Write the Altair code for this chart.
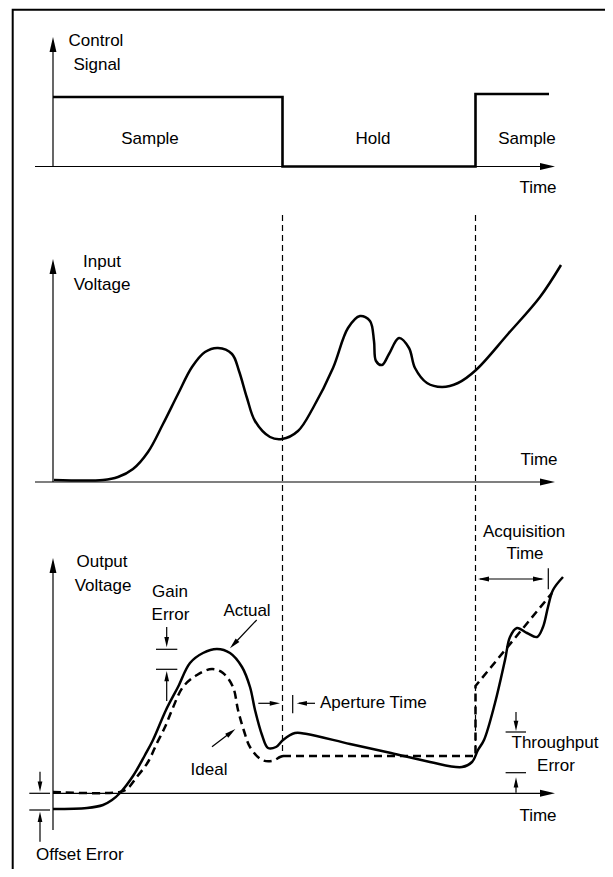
import altair as alt
import pandas as pd

# ---------------- data (diagram units = reference pixel grid) ----------------
# Control signal (step waveform)
control_x = [53, 282.5, 282.5, 475.5, 475.5, 549]
control_y = [97, 97, 166.5, 166.5, 94, 94]

# Input voltage curve
input_x = [54, 103, 118, 133, 148, 163, 178, 192, 205, 218, 232, 239, 247, 255, 270, 282,
           298, 313, 333, 348, 360, 370, 374, 376, 382, 389, 399, 409, 415, 427, 442, 458,
           476, 508, 540, 561]
input_y = [480, 480, 477, 469, 452, 424, 394, 367, 352, 348, 354, 371, 398, 421, 437, 439,
           431, 408, 368, 328, 316, 321, 341, 361, 365, 354, 338, 348, 368, 383, 387, 383,
           370, 334, 297, 265]

# Output voltage: actual (solid)
actual_x = [53, 87, 103, 112, 120, 133, 145, 153, 166, 178, 190, 203, 217, 230, 242, 250,
            255, 262, 268, 276, 283, 295, 307, 350, 391, 430, 462, 472, 478, 484, 495, 505,
            510, 517, 527, 537, 543, 548, 553, 563]
actual_y = [809, 808, 805, 800, 793, 776, 755, 740, 710, 687, 663, 653, 649, 653, 667, 687,
            710, 735, 748, 747, 740, 733, 734, 744, 753, 762, 767, 762, 750, 740, 703, 660,
            637, 628, 633, 637, 627, 607, 590, 577]

# Output voltage: ideal (dashed), tracking part and hold part
ideal_x = [53, 120, 128, 136, 148, 157, 165, 172, 183, 197, 212, 223, 233, 238, 244, 250,
           262, 272, 280, 283]
ideal_y = [792, 792, 788, 778, 762, 743, 727, 710, 687, 675, 669, 673, 687, 710, 731, 747,
           760, 761, 757, 756]
hold_x = [283, 475.5, 475.5, 552]
hold_y = [756, 756, 686, 593]

# Thin solid segments: axes, ticks and annotation arrow shafts
seg_x1 = [53, 35, 53, 35, 53, 53,
          166.7, 156, 156, 166.7, 256.7, 212,
          258.3, 292.7, 299, 480, 548.3,
          516, 505.6, 505.6, 516, 29.3, 29.3, 40, 40]
seg_y1 = [167, 166.5, 482, 482, 830, 793.3,
          627, 649.3, 669.3, 678, 620, 746.7,
          703.3, 695, 703.3, 579, 568.3,
          712, 732, 772.7, 785, 793.3, 810, 771.7, 818]
seg_x2 = [53, 542, 53, 542, 53, 542,
          166.7, 177.3, 177.3, 166.7, 233, 232,
          272, 292.7, 315, 542, 548.3,
          516, 526, 526, 516, 50, 50, 40, 40]
seg_y2 = [50, 166.5, 272, 482, 571, 793.3,
          639, 649.3, 669.3, 701, 645, 731.5,
          703.3, 713.3, 703.3, 579, 589.3,
          723, 732, 772.7, 792.7, 793.3, 810, 783, 841.7]

# Dashed guide lines at the sample->hold and hold->sample instants
guide_x = [282.5, 475.5]
guide_y1 = [215, 215]
guide_y2 = [756, 756]

# Arrowheads: tip position, direction (deg, clockwise from up) and size
head_x = [53, 555, 53, 555, 53, 555,
          166.7, 166.7, 230, 235.4, 280, 296.7, 478, 544, 516, 516, 40, 40]
head_y = [37, 166.5, 259, 482, 558, 793.3,
          647.3, 671, 648.3, 729, 703.3, 703.3, 579, 579, 731, 777.3, 791.7, 811.7]
head_a = [0, 90, 0, 90, 0, 90,
          180, 0, 223, 52, 90, 270, 270, 90, 180, 0, 180, 0]
head_s = [900, 900, 900, 900, 900, 900,
          420, 420, 484, 484, 420, 420, 484, 484, 420, 420, 420, 420]

# Centered labels
label_text = ["Control", "Signal", "Sample", "Hold", "Sample", "Time",
              "Input", "Voltage", "Time",
              "Output", "Voltage", "Acquisition", "Time", "Gain", "Error", "Actual",
              "Ideal", "Throughput", "Error", "Time"]
label_x = [96, 97, 150, 373, 527, 538,
           102, 102, 539,
           102, 103, 524, 525, 170, 170.5, 247,
           209, 555, 556, 538]
label_y = [41, 65, 139, 139, 139, 188,
           262, 285, 460,
           562, 586, 532, 554, 592, 615, 611,
           770, 743, 766, 816]

# Left-aligned labels
left_text = ["Aperture Time", "Offset Error"]
left_x = [320, 36]
left_y = [703.3, 855]

# Frame (left and top edges visible)
frame_x = [12.7, 12.7, 613]
frame_y = [877, 9.7, 9.7]

# ---------------- chart ----------------
XS = alt.Scale(domain=[8, 605], nice=False, zero=False)
YS = alt.Scale(domain=[8, 869], nice=False, zero=False, reverse=True)
FONT = "Liberation Sans"
FS = 17


def line_layer(xs, ys, width=2.5, dash=None, interp="linear"):
    df = pd.DataFrame({"x": xs, "y": ys, "i": list(range(len(xs)))})
    kw = dict(color="black", strokeWidth=width, interpolate=interp, clip=False)
    if dash:
        kw["strokeDash"] = dash
    return alt.Chart(df).mark_line(**kw).encode(
        x=alt.X("x:Q", scale=XS, axis=None),
        y=alt.Y("y:Q", scale=YS, axis=None),
        order="i:Q",
    )


frame = line_layer(frame_x, frame_y, width=2)
control = line_layer(control_x, control_y, width=2.6)
inp = line_layer(input_x, input_y, width=2.5, interp="catmull-rom")
actual = line_layer(actual_x, actual_y, width=2.5, interp="catmull-rom")
ideal = line_layer(ideal_x, ideal_y, width=2.5, dash=[8, 5], interp="catmull-rom")
hold = line_layer(hold_x, hold_y, width=2.5, dash=[8, 5])

seg_df = pd.DataFrame({"x": seg_x1, "y": seg_y1, "x2": seg_x2, "y2": seg_y2})
segs = alt.Chart(seg_df).mark_rule(color="black", strokeWidth=1.2).encode(
    x=alt.X("x:Q", scale=XS, axis=None), y=alt.Y("y:Q", scale=YS, axis=None),
    x2="x2:Q", y2="y2:Q",
)

guide_df = pd.DataFrame({"x": guide_x, "y": guide_y1, "y2": guide_y2})
guides = alt.Chart(guide_df).mark_rule(color="black", strokeWidth=1.2, strokeDash=[6, 4]).encode(
    x=alt.X("x:Q", scale=XS, axis=None), y=alt.Y("y:Q", scale=YS, axis=None), y2="y2:Q",
)

head_df = pd.DataFrame({"x": head_x, "y": head_y, "a": head_a, "s": head_s})
heads = alt.Chart(head_df).mark_point(
    shape="M0,0L0.23,1L-0.23,1Z", filled=True, color="black", opacity=1, strokeWidth=0
).encode(
    x=alt.X("x:Q", scale=XS, axis=None), y=alt.Y("y:Q", scale=YS, axis=None),
    angle=alt.Angle("a:Q", scale=None), size=alt.Size("s:Q", scale=None),
)

lab_df = pd.DataFrame({"t": label_text, "x": label_x, "y": label_y})
labels = alt.Chart(lab_df).mark_text(
    font=FONT, fontSize=FS, color="black", align="center", baseline="middle"
).encode(
    x=alt.X("x:Q", scale=XS, axis=None), y=alt.Y("y:Q", scale=YS, axis=None), text="t:N",
)

left_df = pd.DataFrame({"t": left_text, "x": left_x, "y": left_y})
left_labels = alt.Chart(left_df).mark_text(
    font=FONT, fontSize=FS, color="black", align="left", baseline="middle"
).encode(
    x=alt.X("x:Q", scale=XS, axis=None), y=alt.Y("y:Q", scale=YS, axis=None), text="t:N",
)

chart = alt.layer(
    frame, guides, segs, control, inp, ideal, hold, actual, heads, labels, left_labels
).properties(
    width=597, height=861, autosize=alt.AutoSizeParams(type="none"), padding=0,
    background="white",
).configure_view(strokeWidth=0)

chart.save("out.html", embed_options={"renderer": "svg", "actions": False})
